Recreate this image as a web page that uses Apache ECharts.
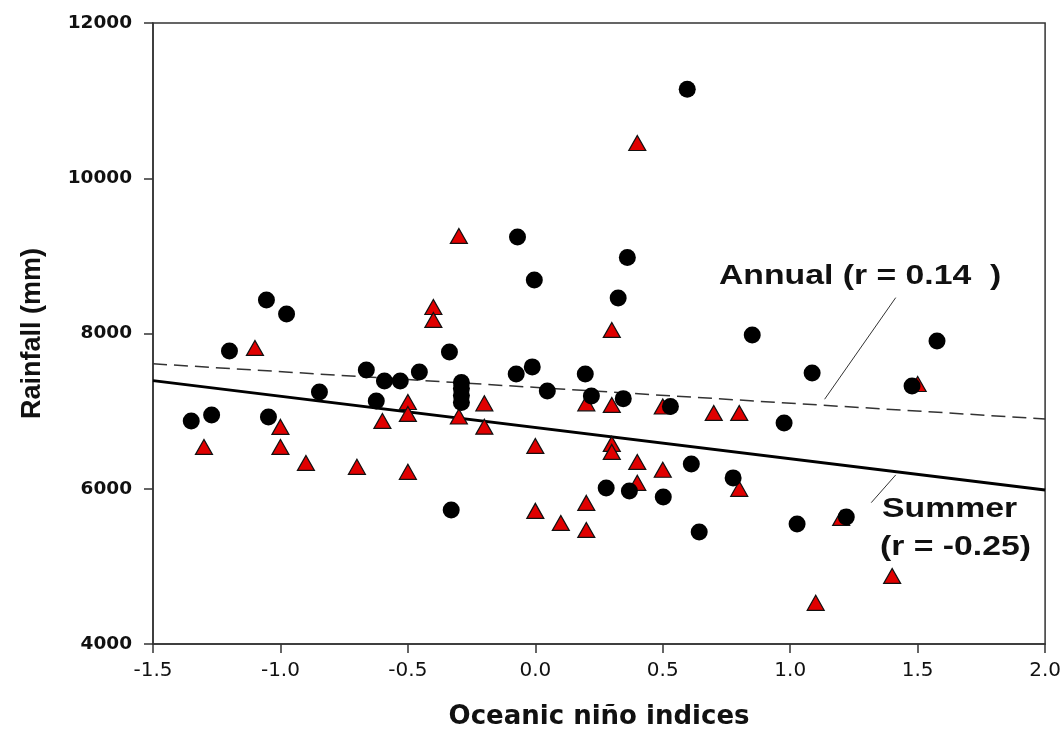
<!DOCTYPE html>
<html>
<head>
<meta charset="utf-8">
<script src="https://cdn.jsdelivr.net/npm/echarts@6/dist/echarts.min.js"></script>
<style>
  html, body { margin: 0; padding: 0; background: #fff; }
  #main { width: 1064px; height: 743px; }
</style>
</head>
<body>
<div id="main"></div>
<script>
// annual rainfall (black circles): [ONI, mm]
var annualPts = [
  [-1.35, 6874], [-1.27, 6951], [-1.20, 7775], [-1.055, 8432], [-0.976, 8252],
  [-1.047, 6925], [-0.847, 7247], [-0.663, 7531], [-0.592, 7389], [-0.624, 7131],
  [-0.53, 7389], [-0.455, 7505], [-0.337, 7762], [-0.33, 5727], [-0.29, 7370],
  [-0.29, 7290], [-0.29, 7200], [-0.29, 7110], [-0.07, 9244], [-0.075, 7479],
  [-0.012, 7570], [-0.004, 8690], [0.047, 7260], [0.196, 7479], [0.22, 7196],
  [0.345, 7161], [0.325, 8458], [0.361, 8980], [0.53, 7060], [0.278, 6011],
  [0.369, 5972], [0.502, 5895], [0.612, 6320], [0.643, 5444], [0.596, 11146],
  [0.851, 7981], [1.086, 7492], [1.576, 7904], [1.478, 7325], [0.976, 6848],
  [1.027, 5547], [1.22, 5637], [0.776, 6140]
];
// summer rainfall (red triangles): [ONI, mm]
var summerPts = [
  [-1.3, 6539], [-1.1, 7814], [-1.0, 6797], [-1.0, 6539], [-0.9, 6333],
  [-0.7, 6282], [-0.6, 6874], [-0.5, 7118], [-0.5, 6964], [-0.5, 6218],
  [-0.4, 8342], [-0.4, 8175], [-0.3, 9257], [-0.3, 6930], [-0.2, 7100],
  [-0.2, 6800], [0.0, 6552], [0.0, 5715], [0.1, 5560], [0.2, 5818],
  [0.2, 5470], [0.2, 7100], [0.3, 8046], [0.3, 7080], [0.3, 6578],
  [0.3, 6475], [0.4, 10454], [0.4, 6346], [0.4, 6076], [0.5, 7060],
  [0.5, 6244], [0.7, 6977], [0.8, 6977], [0.8, 5999], [1.1, 4530],
  [1.2, 5624], [1.4, 4877], [1.5, 7350]
];
// regression lines
var annualFit = [[-1.5, 7610], [2.0, 6899]];
var summerFit = [[-1.5, 7393], [2.0, 5985]];
// annotation leader lines
var annualLeader = [[1.414, 8462], [1.135, 7153]];
var summerLeader = [[1.414, 6178], [1.318, 5821]];

var xTicks = { min: -1.5, max: 2.0, interval: 0.5 };
var yTicks = { min: 4000, max: 12000, interval: 2000 };

var font = 'Liberation Sans, Arial, sans-serif';
var wide = 'DejaVu Sans, sans-serif';
var chart = echarts.init(document.getElementById('main'));

function note(text, x, y) {
  return {
    type: 'text', x: x, y: y, scaleX: 1.25,
    style: {
      text: text, font: 'bold 27px ' + font, fill: '#111',
      align: 'left', verticalAlign: 'middle',
      textAlign: 'left', textVerticalAlign: 'middle'
    }
  };
}

var option = {
  backgroundColor: '#fff',
  animation: false,
  grid: {
    left: 153, right: 18, top: 23, bottom: 99,
    show: true, borderColor: '#333', borderWidth: 1.5
  },
  xAxis: {
    type: 'value',
    min: xTicks.min, max: xTicks.max, interval: xTicks.interval,
    name: 'Oceanic niño indices',
    nameLocation: 'middle', nameGap: 60,
    nameTextStyle: { fontFamily: wide, fontSize: 26, fontWeight: 'bold', color: '#111' },
    axisLine: { onZero: false, lineStyle: { color: '#333', width: 1.5 } },
    axisTick: { inside: false, length: 9, lineStyle: { color: '#333', width: 1.5 } },
    axisLabel: {
      margin: 17, fontFamily: wide, fontSize: 20, color: '#111',
      formatter: function (v) { return v.toFixed(1); }
    },
    splitLine: { show: false }
  },
  yAxis: {
    type: 'value',
    min: yTicks.min, max: yTicks.max, interval: yTicks.interval,
    name: 'Rainfall (mm)',
    nameLocation: 'middle', nameGap: 107, nameRotate: 90,
    nameTextStyle: { fontFamily: font, fontSize: 27, fontWeight: 'bold', color: '#111' },
    axisLine: { show: true, onZero: false, lineStyle: { color: '#333', width: 1.5 } },
    axisTick: { show: true, inside: false, length: 9, lineStyle: { color: '#333', width: 1.5 } },
    axisLabel: {
      margin: 21, fontFamily: wide, fontSize: 18.5, fontWeight: 'bold', color: '#111',
      formatter: function (v) { return String(v); }
    },
    splitLine: { show: false }
  },
  series: [
    {
      type: 'line', data: annualFit, symbol: 'none', silent: true, z: 1,
      lineStyle: { color: '#333', width: 1.5, type: [14, 7] }
    },
    {
      type: 'line', data: summerFit, symbol: 'none', silent: true, z: 1,
      lineStyle: { color: '#000', width: 3 }
    },
    {
      type: 'line', data: annualLeader, symbol: 'none', silent: true, z: 1,
      lineStyle: { color: '#333', width: 1 }
    },
    {
      type: 'line', data: summerLeader, symbol: 'none', silent: true, z: 1,
      lineStyle: { color: '#333', width: 1 }
    },
    {
      type: 'scatter', data: summerPts, symbol: 'triangle', symbolSize: [17, 15], z: 3,
      itemStyle: { color: '#e00000', borderColor: '#111', borderWidth: 1.2, opacity: 1 }
    },
    {
      type: 'scatter', data: annualPts, symbol: 'circle', symbolSize: 17, z: 4,
      itemStyle: { color: '#000', opacity: 1 }
    }
  ],
  graphic: [
    note('Annual (r = 0.14  )', 719, 277),
    note('Summer', 882, 510),
    note('(r = -0.25)', 880, 548)
  ]
};
chart.setOption(option);
</script>
</body>
</html>
